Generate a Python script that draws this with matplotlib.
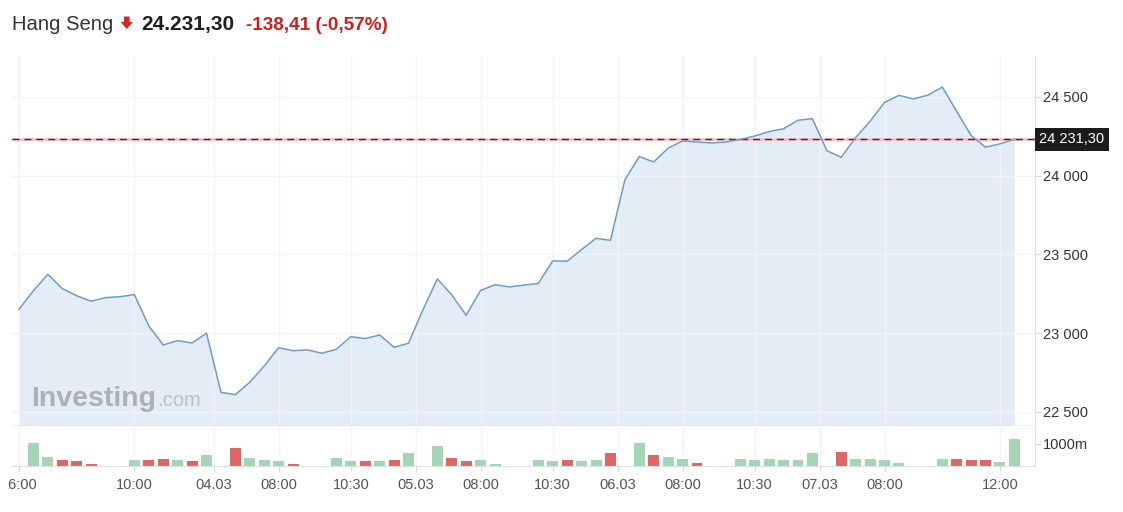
import numpy as np
import matplotlib.pyplot as plt
from matplotlib.patches import Polygon
from matplotlib.transforms import Bbox, TransformedBbox, blended_transform_factory

plt.rcParams["font.family"] = ["Liberation Sans", "DejaVu Sans"]

W, H = 1123, 512

# ---- data (one point per bar) ----
close = [23152, 23270, 23374, 23283, 23238, 23203, 23226, 23232, 23245, 23046,
         22925, 22953, 22938, 23000, 22625, 22610, 22689, 22792, 22908, 22889,
         22894, 22873, 22898, 22978, 22966, 22989, 22911, 22936, 23148, 23345,
         23243, 23114, 23272, 23308, 23294, 23305, 23316, 23459, 23457, 23531,
         23603, 23590, 23973, 24122, 24087, 24175, 24221, 24214, 24208, 24214,
         24230, 24252, 24280, 24298, 24352, 24362, 24159, 24117, 24242, 24346,
         24465, 24510, 24487, 24511, 24563, 24409, 24256, 24181, 24202, 24231.30]

volume = [0, 1060, 423, 273, 214, 105, 0, 0, 273, 273,
          318, 273, 214, 500, 0, 832, 377, 273, 214, 105,
          0, 0, 377, 214, 214, 214, 273, 605, 0, 895,
          377, 214, 273, 105, 0, 0, 273, 214, 273, 214,
          273, 605, 0, 1060, 500, 423, 318, 150, 0, 0,
          318, 273, 318, 259, 259, 605, 0, 650, 318, 318,
          259, 150, 0, 0, 318, 318, 259, 259, 195, 1227]

direction = ["-", "u", "u", "d", "d", "d", "-", "-", "u", "d",
             "d", "u", "d", "u", "-", "d", "u", "u", "u", "d",
             "-", "-", "u", "u", "d", "u", "d", "u", "-", "u",
             "d", "d", "u", "u", "-", "-", "u", "u", "d", "u",
             "u", "d", "-", "u", "d", "u", "u", "d", "-", "-",
             "u", "u", "u", "u", "u", "u", "-", "d", "u", "u",
             "u", "u", "-", "-", "u", "d", "d", "d", "u", "u"]

tick_pos = [0, 8, 13.5, 18, 23, 27.5, 32, 37, 41.5, 46, 51, 55.5, 60, 68]
tick_lbl = ["16:00", "10:00", "04.03", "08:00", "10:30", "05.03", "08:00",
            "10:30", "06.03", "08:00", "10:30", "07.03", "08:00", "12:00"]
price_ticks = [22500, 23000, 23500, 24000, 24500]
last_price = 24231.30

LINE = "#6b9dc9"
FILL = (0.42, 0.60, 0.80, 0.18)
GREEN = "#a4d6b5"
RED = "#e06565"
TXT = "#333333"
GRID = "#f3f4f6"


def fx(x):
    return x / W


def fy(y):
    return 1 - y / H


fig = plt.figure(figsize=(W / 100, H / 100), dpi=100)
L, R = 12, 1035
ax = fig.add_axes([fx(L), fy(426), fx(R - L), (426 - 56) / H])
axv = fig.add_axes([fx(L), fy(466), fx(R - L), 40 / H], sharex=ax)

idx = np.arange(len(close))
ymin, ymax = 22411, 24760

# ----- price panel -----
ax.fill_between(idx, close, ymin, color=FILL, lw=0, zorder=1)
ax.plot(idx, close, color=LINE, lw=1.1, zorder=3)
ax.axhline(last_price, color="#f6bcbc", lw=1.8, zorder=2)
ax.axhline(last_price, color="#4a2828", lw=1.0, dashes=(5, 3.6), zorder=2.5)
ax.set_xlim(-0.485, 70.43)
ax.set_ylim(ymin, ymax)

ax.yaxis.tick_right()
ax.set_yticks(price_ticks)
ax.set_yticklabels([f"{v:,}".replace(",", " ") for v in price_ticks])
ax.tick_params(axis="y", length=4, color="#d6d6d6", labelsize=10.5,
               labelcolor=TXT, pad=1.5)
ax.set_xticks(tick_pos)
ax.tick_params(axis="x", length=0, labelbottom=False)
ax.grid(axis="y", color=GRID, lw=1)
ax.grid(axis="x", color=GRID, lw=1)
for s in ("top", "left"):
    ax.spines[s].set_visible(False)
ax.spines["right"].set_color("#e2e2e2")
ax.spines["bottom"].set_color("#c9c9c9")
ax.spines["bottom"].set_linewidth(1.0)

ax.annotate(f"{last_price:,.2f}".replace(",", " ").replace(".", ","),
            xy=(1.0, last_price),
            xycoords=blended_transform_factory(ax.transAxes, ax.transData),
            xytext=(3, 0), textcoords="offset points",
            ha="left", va="center", fontsize=10.5, color="white",
            bbox=dict(boxstyle="square,pad=0.3", fc="#1c1c1c", ec="none"),
            annotation_clip=False)

# ----- volume panel -----
colors = [GREEN if d == "u" else RED for d in direction]
axv.bar(idx, volume, width=0.76, color=colors, lw=0)
axv.set_ylim(0, 1818)
axv.yaxis.tick_right()
axv.set_yticks([1000])
axv.set_yticklabels(["1000m"])
axv.tick_params(axis="y", length=4, color="#d6d6d6", labelsize=10.5,
                labelcolor=TXT, pad=1.5)
axv.set_xticks(tick_pos)
axv.set_xticklabels([""] + tick_lbl[1:])
axv.tick_params(axis="x", length=3.5, color="#d8d8d8", labelsize=10.5,
                labelcolor="#555555", pad=5)
axv.grid(axis="x", color=GRID, lw=1)
axv.set_axisbelow(True)
for s in ("top", "left"):
    axv.spines[s].set_visible(False)
axv.spines["right"].set_color("#e2e2e2")
axv.spines["bottom"].set_color("#dde1e6")

# first time label is cut by the left edge of the chart
t0 = fig.text(fx(19), fy(485), tick_lbl[0], ha="center", va="center",
              fontsize=10.5, color="#555555", clip_on=True)
t0.set_clip_box(TransformedBbox(Bbox.from_extents(fx(7.5), 0, 1, 1),
                                fig.transFigure))

# watermark
fig.text(fx(31), fy(406), "Investing", fontsize=20.5, fontweight="bold",
         color="#adb1b6", va="baseline")
fig.text(fx(157), fy(406), ".com", fontsize=14.5, color="#bcc0c4",
         va="baseline")

# ----- header -----
fig.text(fx(12), fy(30), "Hang Seng", fontsize=14.6, color=TXT,
         va="baseline")
arrow = [(124.0, 16.5), (129.6, 16.5), (129.6, 22.0), (133.0, 22.0),
         (126.8, 29.0), (120.6, 22.0), (124.0, 22.0)]
fig.patches.append(Polygon([(fx(x), fy(y)) for x, y in arrow], closed=True,
                           transform=fig.transFigure, fc="#d42a22", ec="none"))
fig.text(fx(141), fy(30), "24.231,30", fontsize=15, fontweight="bold",
         color="#1e1e1e", va="baseline")
fig.text(fx(246.5), fy(30), "-138,41 (-0,57%)", fontsize=13.6,
         fontweight="bold", color="#cc1f1f", va="baseline")

fig.savefig("out.png", dpi=100, facecolor="white")
